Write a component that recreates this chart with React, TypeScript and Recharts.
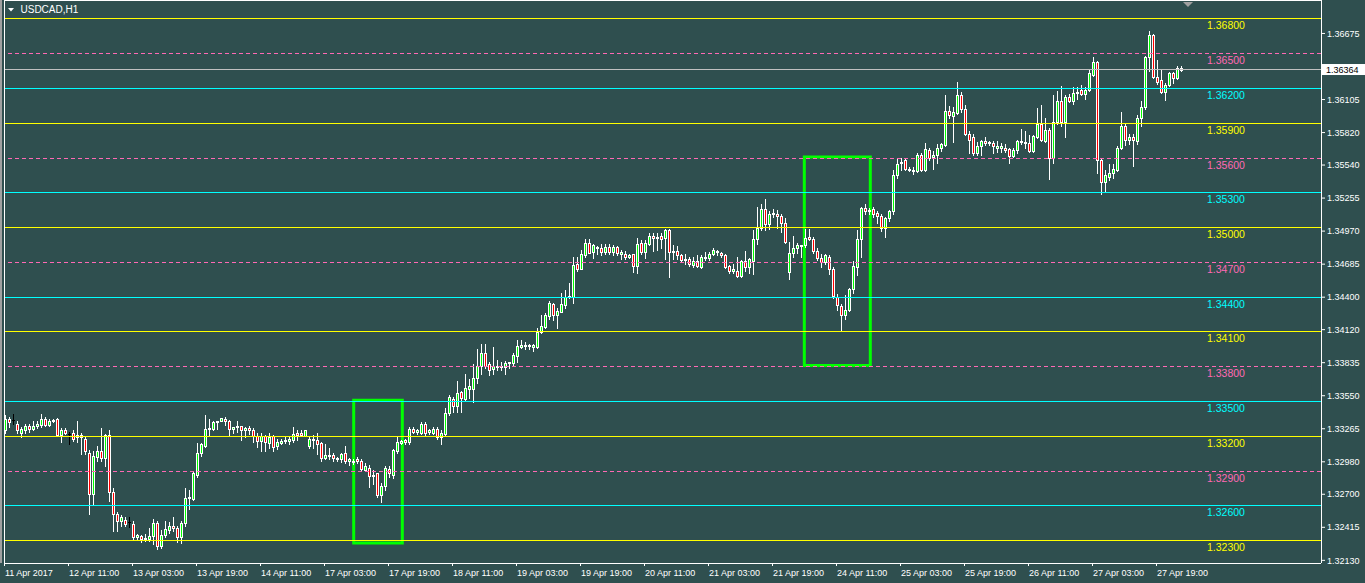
import React from 'react';
import { ComposedChart, Bar, XAxis, YAxis, ReferenceLine, ReferenceArea } from 'recharts';

const FONT = "'Liberation Sans', Arial, sans-serif";
const BG = '#2F4F4F';
const BULL = '#00FF00';
const BEAR = '#FF0000';

const symbolTitle = 'USDCAD,H1';

const opens = [
  1.3325, 1.3335, 1.3334, 1.3331, 1.3323, 1.3325, 1.3329, 1.3326, 1.3329, 1.3330,
  1.3335, 1.3330, 1.3333, 1.3335, 1.3321, 1.3325, 1.3322, 1.3323, 1.3319, 1.3321,
  1.3318, 1.3306, 1.3270, 1.3302, 1.3307, 1.3301, 1.3321, 1.3272, 1.3253, 1.3247,
  1.3248, 1.3246, 1.3244, 1.3233, 1.3234, 1.3231, 1.3231, 1.3234, 1.3245, 1.3225,
  1.3235, 1.3239, 1.3243, 1.3241, 1.3233, 1.3245, 1.3267, 1.3266, 1.3287, 1.3306,
  1.3312, 1.3326, 1.3326, 1.3332, 1.3333, 1.3335, 1.3333, 1.3326, 1.3328, 1.3329,
  1.3325, 1.3327, 1.3325, 1.3320, 1.3316, 1.3320, 1.3314, 1.3320, 1.3312, 1.3314,
  1.3316, 1.3316, 1.3317, 1.3323, 1.3323, 1.3320, 1.3312, 1.3317, 1.3317, 1.3314,
  1.3301, 1.3303, 1.3304, 1.3300, 1.3300, 1.3306, 1.3299, 1.3299, 1.3300, 1.3299,
  1.3291, 1.3293, 1.3286, 1.3288, 1.3269, 1.3277, 1.3292, 1.3287, 1.3307, 1.3314,
  1.3317, 1.3315, 1.3326, 1.3324, 1.3323, 1.3331, 1.3324, 1.3323, 1.3326, 1.3319,
  1.3322, 1.3340, 1.3352, 1.3346, 1.3358, 1.3352, 1.3361, 1.3361, 1.3370, 1.3381,
  1.3392, 1.3382, 1.3378, 1.3380, 1.3380, 1.3380, 1.3383, 1.3383, 1.3389, 1.3397,
  1.3398, 1.3398, 1.3397, 1.3397, 1.3410, 1.3414, 1.3424, 1.3434, 1.3425, 1.3427,
  1.3433, 1.3440, 1.3440, 1.3469, 1.3464, 1.3476, 1.3487, 1.3479, 1.3483, 1.3482,
  1.3479, 1.3483, 1.3479, 1.3483, 1.3477, 1.3477, 1.3475, 1.3477, 1.3467, 1.3487,
  1.3479, 1.3486, 1.3493, 1.3491, 1.3493, 1.3491, 1.3498, 1.3479, 1.3480, 1.3476,
  1.3472, 1.3473, 1.3468, 1.3471, 1.3466, 1.3474, 1.3474, 1.3477, 1.3479, 1.3478,
  1.3476, 1.3467, 1.3463, 1.3463, 1.3458, 1.3471, 1.3466, 1.3471, 1.3490, 1.3500,
  1.3516, 1.3503, 1.3512, 1.3512, 1.3510, 1.3504, 1.3462, 1.3478, 1.3482, 1.3484,
  1.3485, 1.3492, 1.3490, 1.3480, 1.3474, 1.3470, 1.3475, 1.3464, 1.3440, 1.3432,
  1.3425, 1.3429, 1.3447, 1.3466, 1.3490, 1.3517, 1.3514, 1.3516, 1.3513, 1.3510,
  1.3500, 1.3508, 1.3514, 1.3545, 1.3556, 1.3558, 1.3550, 1.3549, 1.3549, 1.3563,
  1.3550, 1.3567, 1.3561, 1.3563, 1.3569, 1.3571, 1.3601, 1.3596, 1.3599, 1.3614,
  1.3602, 1.3581, 1.3578, 1.3564, 1.3570, 1.3575, 1.3573, 1.3573, 1.3569, 1.3569,
  1.3569, 1.3568, 1.3562, 1.3567, 1.3575, 1.3573, 1.3573, 1.3566, 1.3578, 1.3589,
  1.3575, 1.3584, 1.3560, 1.3591, 1.3609, 1.3591, 1.3613, 1.3609, 1.3616, 1.3619,
  1.3615, 1.3619, 1.3632, 1.3643, 1.3558, 1.3539, 1.3544, 1.3547, 1.3550, 1.3569,
  1.3588, 1.3576, 1.3578, 1.3575, 1.3595, 1.3604, 1.3647, 1.3666, 1.3630, 1.3627,
  1.3617, 1.3623, 1.3633, 1.3629, 1.3638,
];

const highs = [
  1.3338, 1.3337, 1.3339, 1.3333, 1.3328, 1.3331, 1.3331, 1.3333, 1.3333, 1.3339,
  1.3337, 1.3335, 1.3335, 1.3336, 1.3327, 1.3327, 1.3324, 1.3325, 1.3333, 1.3323,
  1.3320, 1.3308, 1.3307, 1.3312, 1.3327, 1.3322, 1.3325, 1.3275, 1.3255, 1.3252,
  1.3250, 1.3250, 1.3247, 1.3236, 1.3235, 1.3236, 1.3241, 1.3249, 1.3247, 1.3239,
  1.3247, 1.3246, 1.3250, 1.3243, 1.3247, 1.3275, 1.3274, 1.3290, 1.3314, 1.3314,
  1.3338, 1.3335, 1.3333, 1.3333, 1.3336, 1.3337, 1.3334, 1.3328, 1.3333, 1.3329,
  1.3328, 1.3329, 1.3327, 1.3323, 1.3323, 1.3321, 1.3323, 1.3321, 1.3318, 1.3318,
  1.3319, 1.3320, 1.3328, 1.3325, 1.3325, 1.3325, 1.3320, 1.3321, 1.3323, 1.3315,
  1.3313, 1.3310, 1.3306, 1.3302, 1.3306, 1.3312, 1.3301, 1.3300, 1.3302, 1.3300,
  1.3297, 1.3295, 1.3291, 1.3288, 1.3280, 1.3294, 1.3294, 1.3309, 1.3320, 1.3317,
  1.3318, 1.3328, 1.3328, 1.3326, 1.3332, 1.3332, 1.3326, 1.3328, 1.3328, 1.3325,
  1.3344, 1.3356, 1.3354, 1.3368, 1.3359, 1.3374, 1.3369, 1.3382, 1.3395, 1.3400,
  1.3400, 1.3384, 1.3397, 1.3386, 1.3384, 1.3385, 1.3384, 1.3392, 1.3403, 1.3403,
  1.3401, 1.3400, 1.3400, 1.3413, 1.3425, 1.3426, 1.3437, 1.3435, 1.3431, 1.3444,
  1.3446, 1.3452, 1.3475, 1.3475, 1.3481, 1.3490, 1.3490, 1.3486, 1.3484, 1.3486,
  1.3486, 1.3486, 1.3485, 1.3484, 1.3481, 1.3480, 1.3477, 1.3477, 1.3491, 1.3489,
  1.3489, 1.3495, 1.3495, 1.3495, 1.3495, 1.3499, 1.3499, 1.3485, 1.3484, 1.3477,
  1.3477, 1.3475, 1.3475, 1.3476, 1.3476, 1.3479, 1.3479, 1.3482, 1.3481, 1.3479,
  1.3477, 1.3468, 1.3469, 1.3475, 1.3472, 1.3480, 1.3474, 1.3498, 1.3518, 1.3520,
  1.3525, 1.3514, 1.3516, 1.3515, 1.3512, 1.3508, 1.3488, 1.3493, 1.3487, 1.3485,
  1.3499, 1.3499, 1.3492, 1.3482, 1.3477, 1.3477, 1.3476, 1.3466, 1.3443, 1.3434,
  1.3442, 1.3448, 1.3471, 1.3498, 1.3518, 1.3520, 1.3517, 1.3518, 1.3514, 1.3512,
  1.3509, 1.3515, 1.3550, 1.3560, 1.3560, 1.3559, 1.3552, 1.3552, 1.3564, 1.3564,
  1.3573, 1.3569, 1.3566, 1.3572, 1.3573, 1.3614, 1.3605, 1.3604, 1.3626, 1.3617,
  1.3606, 1.3583, 1.3581, 1.3574, 1.3576, 1.3578, 1.3575, 1.3575, 1.3575, 1.3573,
  1.3572, 1.3569, 1.3569, 1.3576, 1.3585, 1.3583, 1.3580, 1.3580, 1.3603, 1.3606,
  1.3595, 1.3586, 1.3614, 1.3618, 1.3622, 1.3614, 1.3615, 1.3621, 1.3621, 1.3623,
  1.3621, 1.3636, 1.3647, 1.3644, 1.3559, 1.3550, 1.3555, 1.3555, 1.3570, 1.3600,
  1.3589, 1.3581, 1.3581, 1.3597, 1.3609, 1.3648, 1.3670, 1.3667, 1.3645, 1.3637,
  1.3625, 1.3634, 1.3634, 1.3639, 1.3639,
];

const lows = [
  1.3323, 1.3328, 1.3331, 1.3323, 1.3319, 1.3323, 1.3324, 1.3325, 1.3327, 1.3328,
  1.3329, 1.3329, 1.3332, 1.3320, 1.3315, 1.3322, 1.3313, 1.3316, 1.3315, 1.3305,
  1.3305, 1.3253, 1.3261, 1.3299, 1.3299, 1.3294, 1.3264, 1.3238, 1.3238, 1.3243,
  1.3243, 1.3242, 1.3231, 1.3231, 1.3229, 1.3230, 1.3230, 1.3227, 1.3223, 1.3224,
  1.3233, 1.3237, 1.3238, 1.3229, 1.3228, 1.3243, 1.3257, 1.3265, 1.3285, 1.3303,
  1.3311, 1.3321, 1.3325, 1.3326, 1.3333, 1.3330, 1.3321, 1.3323, 1.3324, 1.3317,
  1.3319, 1.3322, 1.3315, 1.3311, 1.3307, 1.3307, 1.3310, 1.3307, 1.3309, 1.3313,
  1.3314, 1.3313, 1.3315, 1.3317, 1.3320, 1.3320, 1.3310, 1.3310, 1.3305, 1.3299,
  1.3300, 1.3300, 1.3299, 1.3299, 1.3298, 1.3297, 1.3295, 1.3296, 1.3297, 1.3291,
  1.3290, 1.3276, 1.3279, 1.3268, 1.3263, 1.3274, 1.3285, 1.3284, 1.3306, 1.3313,
  1.3313, 1.3313, 1.3323, 1.3322, 1.3322, 1.3321, 1.3322, 1.3322, 1.3318, 1.3313,
  1.3321, 1.3338, 1.3341, 1.3341, 1.3341, 1.3351, 1.3353, 1.3350, 1.3366, 1.3374,
  1.3379, 1.3373, 1.3374, 1.3377, 1.3377, 1.3374, 1.3379, 1.3381, 1.3384, 1.3396,
  1.3395, 1.3395, 1.3394, 1.3396, 1.3409, 1.3413, 1.3421, 1.3420, 1.3413, 1.3427,
  1.3431, 1.3439, 1.3435, 1.3463, 1.3464, 1.3475, 1.3478, 1.3474, 1.3477, 1.3476,
  1.3477, 1.3477, 1.3476, 1.3476, 1.3473, 1.3473, 1.3474, 1.3462, 1.3461, 1.3477,
  1.3474, 1.3485, 1.3480, 1.3481, 1.3482, 1.3473, 1.3457, 1.3473, 1.3473, 1.3471,
  1.3469, 1.3467, 1.3466, 1.3466, 1.3465, 1.3472, 1.3472, 1.3476, 1.3476, 1.3475,
  1.3465, 1.3461, 1.3461, 1.3457, 1.3457, 1.3463, 1.3461, 1.3460, 1.3486, 1.3498,
  1.3498, 1.3499, 1.3509, 1.3500, 1.3496, 1.3487, 1.3456, 1.3475, 1.3478, 1.3475,
  1.3483, 1.3489, 1.3478, 1.3472, 1.3466, 1.3469, 1.3460, 1.3439, 1.3429, 1.3411,
  1.3421, 1.3428, 1.3444, 1.3459, 1.3475, 1.3512, 1.3512, 1.3509, 1.3504, 1.3497,
  1.3492, 1.3506, 1.3512, 1.3543, 1.3550, 1.3550, 1.3549, 1.3546, 1.3548, 1.3549,
  1.3549, 1.3558, 1.3551, 1.3556, 1.3566, 1.3570, 1.3595, 1.3574, 1.3598, 1.3600,
  1.3580, 1.3564, 1.3563, 1.3563, 1.3563, 1.3571, 1.3571, 1.3564, 1.3565, 1.3565,
  1.3565, 1.3556, 1.3561, 1.3564, 1.3572, 1.3569, 1.3565, 1.3565, 1.3577, 1.3575,
  1.3574, 1.3542, 1.3556, 1.3589, 1.3588, 1.3578, 1.3608, 1.3607, 1.3611, 1.3614,
  1.3611, 1.3618, 1.3631, 1.3547, 1.3529, 1.3531, 1.3541, 1.3543, 1.3549, 1.3568,
  1.3571, 1.3572, 1.3553, 1.3572, 1.3588, 1.3602, 1.3635, 1.3629, 1.3624, 1.3616,
  1.3610, 1.3622, 1.3625, 1.3628, 1.3635,
];

const closes = [
  1.3335, 1.3332, 1.3334, 1.3325, 1.3326, 1.3329, 1.3326, 1.3329, 1.3331, 1.3335,
  1.3330, 1.3333, 1.3334, 1.3321, 1.3325, 1.3323, 1.3322, 1.3318, 1.3321, 1.3319,
  1.3307, 1.3270, 1.3303, 1.3307, 1.3301, 1.3321, 1.3272, 1.3253, 1.3247, 1.3250,
  1.3244, 1.3246, 1.3233, 1.3235, 1.3231, 1.3232, 1.3234, 1.3245, 1.3225, 1.3235,
  1.3240, 1.3243, 1.3241, 1.3233, 1.3245, 1.3267, 1.3268, 1.3288, 1.3306, 1.3313,
  1.3326, 1.3327, 1.3332, 1.3333, 1.3336, 1.3333, 1.3326, 1.3328, 1.3329, 1.3325,
  1.3327, 1.3325, 1.3320, 1.3316, 1.3320, 1.3315, 1.3319, 1.3311, 1.3315, 1.3316,
  1.3317, 1.3318, 1.3322, 1.3321, 1.3321, 1.3325, 1.3318, 1.3318, 1.3313, 1.3301,
  1.3304, 1.3304, 1.3301, 1.3301, 1.3305, 1.3299, 1.3300, 1.3298, 1.3299, 1.3292,
  1.3294, 1.3286, 1.3287, 1.3269, 1.3277, 1.3293, 1.3288, 1.3308, 1.3315, 1.3316,
  1.3315, 1.3326, 1.3324, 1.3325, 1.3331, 1.3323, 1.3325, 1.3326, 1.3319, 1.3323,
  1.3340, 1.3354, 1.3346, 1.3357, 1.3353, 1.3362, 1.3363, 1.3370, 1.3381, 1.3392,
  1.3381, 1.3377, 1.3381, 1.3381, 1.3381, 1.3383, 1.3384, 1.3390, 1.3398, 1.3399,
  1.3399, 1.3399, 1.3399, 1.3410, 1.3415, 1.3425, 1.3435, 1.3425, 1.3428, 1.3434,
  1.3440, 1.3441, 1.3468, 1.3464, 1.3477, 1.3487, 1.3478, 1.3485, 1.3482, 1.3479,
  1.3483, 1.3479, 1.3483, 1.3478, 1.3479, 1.3475, 1.3476, 1.3467, 1.3486, 1.3479,
  1.3487, 1.3493, 1.3491, 1.3492, 1.3490, 1.3498, 1.3479, 1.3480, 1.3476, 1.3472,
  1.3473, 1.3469, 1.3471, 1.3467, 1.3475, 1.3475, 1.3477, 1.3481, 1.3480, 1.3476,
  1.3466, 1.3463, 1.3464, 1.3458, 1.3471, 1.3466, 1.3473, 1.3490, 1.3500, 1.3516,
  1.3503, 1.3512, 1.3513, 1.3510, 1.3504, 1.3488, 1.3478, 1.3482, 1.3485, 1.3485,
  1.3491, 1.3490, 1.3480, 1.3474, 1.3470, 1.3476, 1.3464, 1.3441, 1.3433, 1.3425,
  1.3429, 1.3447, 1.3467, 1.3490, 1.3517, 1.3514, 1.3515, 1.3512, 1.3510, 1.3500,
  1.3508, 1.3514, 1.3545, 1.3555, 1.3557, 1.3551, 1.3551, 1.3550, 1.3563, 1.3550,
  1.3568, 1.3560, 1.3563, 1.3569, 1.3572, 1.3601, 1.3597, 1.3600, 1.3614, 1.3602,
  1.3581, 1.3576, 1.3564, 1.3570, 1.3575, 1.3573, 1.3574, 1.3570, 1.3570, 1.3570,
  1.3567, 1.3562, 1.3567, 1.3575, 1.3574, 1.3574, 1.3566, 1.3579, 1.3589, 1.3576,
  1.3584, 1.3560, 1.3591, 1.3609, 1.3591, 1.3613, 1.3609, 1.3616, 1.3617, 1.3615,
  1.3619, 1.3633, 1.3643, 1.3558, 1.3539, 1.3545, 1.3547, 1.3551, 1.3569, 1.3588,
  1.3576, 1.3578, 1.3576, 1.3595, 1.3604, 1.3647, 1.3666, 1.3630, 1.3626, 1.3617,
  1.3623, 1.3633, 1.3629, 1.3638, 1.36364,
];

const xTickIndex = [0, 16, 32, 48, 64, 80, 96, 112, 128, 144, 160, 176, 192, 208, 224, 240, 256, 272, 288];
const xTickLabels = [
  '11 Apr 2017', '12 Apr 11:00', '13 Apr 03:00', '13 Apr 19:00', '14 Apr 11:00',
  '17 Apr 03:00', '17 Apr 19:00', '18 Apr 11:00', '19 Apr 03:00', '19 Apr 19:00',
  '20 Apr 11:00', '21 Apr 03:00', '21 Apr 19:00', '24 Apr 11:00', '25 Apr 03:00',
  '25 Apr 19:00', '26 Apr 11:00', '27 Apr 03:00', '27 Apr 19:00',
];
const yTicks = [
  1.36675, 1.36105, 1.3582, 1.3554, 1.35255, 1.3497, 1.34685, 1.344,
  1.3412, 1.33835, 1.3355, 1.33265, 1.3298, 1.327, 1.32415, 1.3213,
];

const levelPrices = [1.368, 1.365, 1.362, 1.359, 1.356, 1.353, 1.35, 1.347, 1.344, 1.341, 1.338, 1.335, 1.332, 1.329, 1.326, 1.323];
const levelKinds = ['yellow', 'pink', 'cyan', 'yellow', 'pink', 'cyan', 'yellow', 'pink', 'cyan', 'yellow', 'pink', 'cyan', 'yellow', 'pink', 'cyan', 'yellow'];

const bidPrice = 1.36364;

const zoneStart = [87.05, 199.7];
const zoneEnd = [99.2, 216.2];
const zoneLow = [1.3228, 1.3381];
const zoneHigh = [1.3351, 1.3561];

const LEVEL_STYLE: Record<string, { color: string; dash?: string }> = {
  yellow: { color: '#FFFF00' },
  pink: { color: '#FF69B4', dash: '4 3' },
  cyan: { color: '#00FFFF' },
};

const W = 1365;
const H = 583;
const X_DOMAIN: [number, number] = [-0.375, 328.875];
const Y_DOMAIN: [number, number] = [1.32107, 1.36955];

const n = Math.min(opens.length, highs.length, lows.length, closes.length);
const data = Array.from({ length: n }, (_, i) => ({
  i,
  o: opens[i],
  h: highs[i],
  l: lows[i],
  c: closes[i],
  range: [lows[i], highs[i]],
}));

function Candle(props: any) {
  const { x, y, width, height, payload } = props;
  if (!payload || x == null || y == null || height == null) return null;
  const { o, h, l, c } = payload;
  const top0 = height >= 0 ? y : y + height;
  const hh = Math.abs(height);
  const span = h - l;
  const yOf = (v: number) => (span > 0 ? top0 + ((h - v) / span) * hh : top0);
  const cx = Math.floor(x + width / 2);
  const yHi = Math.round(yOf(h));
  const yLo = Math.round(yOf(l));
  const doji = o === c;
  const els: any[] = [
    <rect key="w" x={cx} y={yHi} width={1} height={Math.max(1, yLo - yHi + 1)} fill={doji ? '#000000' : '#FFFFFF'} />,
  ];
  if (doji) {
    const yo = Math.round(yOf(o));
    els.push(<rect key="d" x={cx - 1} y={yo} width={3} height={1} fill="#000000" />);
  } else {
    const bt = Math.round(yOf(Math.max(o, c)));
    const bb = Math.max(bt, Math.round(yOf(Math.min(o, c))));
    els.push(<rect key="b" x={cx - 1} y={bt} width={3} height={bb - bt + 1} fill="#FFFFFF" />);
    if (bb - bt >= 2) {
      els.push(<rect key="f" x={cx} y={bt + 1} width={1} height={bb - bt - 1} fill={c > o ? BULL : BEAR} />);
    }
  }
  return <g>{els}</g>;
}

function LevelLabel(props: any) {
  const { viewBox, text, color } = props;
  if (!viewBox) return null;
  return (
    <text x={viewBox.x + 1203} y={viewBox.y + 10.5} fill={color} fontSize={10.5} fontFamily={FONT}>
      {text}
    </text>
  );
}

function BidLabel(props: any) {
  const { viewBox, text } = props;
  if (!viewBox) return null;
  const x = viewBox.x + viewBox.width + 1;
  const y = viewBox.y;
  return (
    <g>
      <rect x={x} y={y - 5.5} width={43} height={11} fill="#FFFFFF" />
      <text x={x + 4} y={y + 3.5} fontSize={9} fontFamily={FONT} fill="#000000">
        {text}
      </text>
    </g>
  );
}

function XTick(props: any) {
  const { x, y, payload } = props;
  const k = xTickIndex.indexOf(payload.value);
  const px = Math.floor(x) - 0.5;
  return (
    <g>
      <line x1={px} x2={px} y1={y} y2={y + 3} stroke="#FFFFFF" />
      <text x={x - 0.5} y={y + 13} fill="#FFFFFF" fontSize={9} fontFamily={FONT}>
        {k >= 0 ? xTickLabels[k] : ''}
      </text>
    </g>
  );
}

export default function App() {
  return (
    <div style={{ position: 'absolute', left: 0, top: 0, width: W, height: H, background: BG, overflow: 'hidden' }}>
      <ComposedChart width={W} height={H} data={data} margin={{ top: 1, left: 4, right: 0, bottom: 0 }}>
        <XAxis
          xAxisId="x"
          type="number"
          dataKey="i"
          domain={X_DOMAIN}
          allowDataOverflow
          ticks={xTickIndex}
          interval={0}
          height={20}
          tickSize={0}
          tickMargin={0}
          tickLine={false}
          axisLine={{ stroke: '#FFFFFF', shapeRendering: 'crispEdges' }}
          tick={<XTick />}
        />
        <YAxis
          yAxisId="y"
          orientation="right"
          type="number"
          domain={Y_DOMAIN}
          allowDataOverflow
          ticks={yTicks}
          interval={0}
          width={44}
          tickSize={4}
          tickMargin={2}
          tickLine={{ stroke: '#FFFFFF' }}
          axisLine={{ stroke: '#FFFFFF', shapeRendering: 'crispEdges' }}
          tick={{ fill: '#FFFFFF', fontSize: 9, fontFamily: FONT }}
          tickFormatter={(v: number) => v.toFixed(5)}
        />
        {levelPrices.map((p, k) => {
          const st = LEVEL_STYLE[levelKinds[k]];
          return (
            <ReferenceLine
              key={'lv' + k}
              xAxisId="x"
              yAxisId="y"
              y={p}
              stroke={st.color}
              strokeWidth={1}
              strokeDasharray={st.dash}
              shapeRendering="crispEdges"
              label={<LevelLabel text={p.toFixed(5)} color={st.color} />}
            />
          );
        })}
        <ReferenceLine
          xAxisId="x"
          yAxisId="y"
          y={bidPrice}
          stroke="#C0C0C0"
          strokeWidth={1}
          shapeRendering="crispEdges"
          label={<BidLabel text={bidPrice.toFixed(5)} />}
        />
        <Bar
          xAxisId="x"
          yAxisId="y"
          dataKey="range"
          barSize={3}
          isAnimationActive={false}
          shape={(p: any) => <Candle {...p} />}
        />
        {zoneStart.map((s, k) => (
          <ReferenceArea
            key={'z' + k}
            xAxisId="x"
            yAxisId="y"
            x1={s}
            x2={zoneEnd[k]}
            y1={zoneLow[k]}
            y2={zoneHigh[k]}
            fill="none"
            fillOpacity={0}
            stroke="#00FF00"
            strokeWidth={3}
          />
        ))}
      </ComposedChart>
      <svg
        width={W}
        height={H}
        style={{ position: 'absolute', left: 0, top: 0, pointerEvents: 'none' }}
      >
        <rect x={0} y={0} width={2} height={563} fill="#A0A0A0" />
        <line x1={4} x2={1322} y1={0.5} y2={0.5} stroke="#FFFFFF" />
        <line x1={4.5} x2={4.5} y1={0} y2={563} stroke="#FFFFFF" />
        <polygon points="8,8 14,8 11,11.5" fill="#FFFFFF" />
        <text x={20.5} y={12.7} fontSize={10} fontFamily={FONT} fill="#FFFFFF">
          {symbolTitle}
        </text>
        <polygon points="1183,2 1193,2 1188,7" fill="#A0A0A0" />
      </svg>
    </div>
  );
}
